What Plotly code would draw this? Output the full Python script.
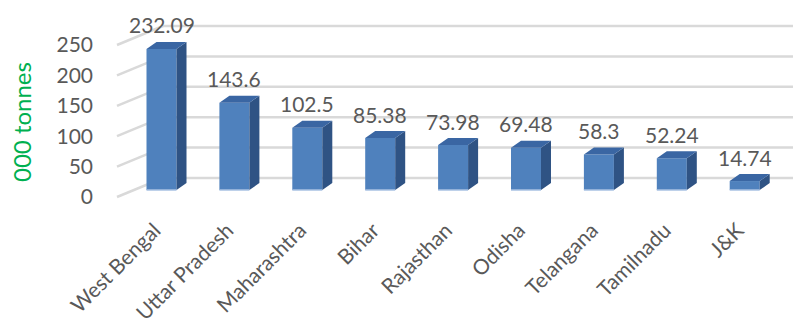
import plotly.graph_objects as go

# Fish production by state (000 tonnes)
states = ["West Bengal", "Uttar Pradesh", "Maharashtra", "Bihar", "Rajasthan",
          "Odisha", "Telangana", "Tamilnadu", "J&K"]
production = [232.09, 143.6, 102.5, 85.38, 73.98, 69.48, 58.3, 52.24, 14.74]
y_ticks = [0, 50, 100, 150, 200, 250]

# ---- pseudo-3D geometry (x in category units, y in value units) ----
PX_X = 72.9          # pixels per category step
PX_Y = 0.608         # pixels per value unit
BAR_W = 30 / PX_X    # width of a bar's front face
BAR_BASE = 7 / PX_Y  # bar front sits slightly behind the floor's front edge
BAR_DX = 10 / PX_X   # bar depth, horizontal
BAR_DY = 7 / PX_Y    # bar depth, vertical
WALL_X0 = (117 - 161.5) / PX_X   # front edge of the left wall
WALL_X1 = (163 - 161.5) / PX_X   # back corner where walls meet
WALL_DY = 19 / PX_Y              # depth rise of the walls
X_RANGE = [(100 - 161.5) / PX_X, (793 - 161.5) / PX_X]
Y_RANGE = [(197 - 205) / PX_Y, 197 / PX_Y]

FRONT = "#4F81BD"
SIDE = "#2F5384"
TOP = "#3A66A3"
GRID = "#D9D9D9"
TEXT = "#595959"
FONT = "Lato"

fig = go.Figure()

# Walls: diagonal gridlines on the side wall and horizontal ones on the back wall
shapes = []
for v in y_ticks:
    shapes.append(dict(type="line", layer="below", xref="x", yref="y",
                       x0=WALL_X0, y0=v, x1=WALL_X1, y1=v + WALL_DY,
                       line=dict(color=GRID, width=2.5)))
    shapes.append(dict(type="line", layer="below", xref="x", yref="y",
                       x0=WALL_X1, y0=v + WALL_DY, x1=X_RANGE[1], y1=v + WALL_DY,
                       line=dict(color=GRID, width=2.5)))

idx = list(range(len(states)))

# Front faces of the columns
fig.add_trace(go.Bar(
    x=idx, y=production, base=[BAR_BASE] * len(idx), width=BAR_W,
    marker=dict(color=FRONT, line=dict(width=0)),
    hoverinfo="skip", showlegend=False,
))

# Side and top faces, built from each column's value
side_x, side_y, top_x, top_y, edge_x, edge_y = [], [], [], [], [], []
for i, v in zip(idx, production):
    xr = i + BAR_W / 2
    xl = i - BAR_W / 2
    yt = BAR_BASE + v
    side_x += [xr, xr, xr + BAR_DX, xr + BAR_DX, xr, None]
    side_y += [BAR_BASE, yt, yt + BAR_DY, BAR_BASE + BAR_DY, BAR_BASE, None]
    top_x += [xl, xr, xr + BAR_DX, xl + BAR_DX, xl, None]
    top_y += [yt, yt, yt + BAR_DY, yt + BAR_DY, yt, None]
    edge_x += [xl, xr, None]
    edge_y += [BAR_BASE, BAR_BASE, None]

fig.add_trace(go.Scatter(x=side_x, y=side_y, mode="lines", fill="toself",
                         fillcolor=SIDE, line=dict(width=0, color=SIDE),
                         hoverinfo="skip", showlegend=False))
fig.add_trace(go.Scatter(x=top_x, y=top_y, mode="lines", fill="toself",
                         fillcolor=TOP, line=dict(width=0, color=TOP),
                         hoverinfo="skip", showlegend=False))
fig.add_trace(go.Scatter(x=edge_x, y=edge_y, mode="lines",
                         line=dict(width=1.5, color="#A9C2E3"),
                         hoverinfo="skip", showlegend=False))

# Value labels above each column
annotations = [
    dict(x=i, y=BAR_BASE + v, xref="x", yref="y", text=str(v), showarrow=False,
         yanchor="middle", yshift=24, font=dict(family=FONT, size=21, color=TEXT))
    for i, v in zip(idx, production)
]
annotations.append(dict(
    x=(21 - 100) / 693, y=1 - 122 / 205, xref="paper", yref="paper",
    text="000 tonnes", showarrow=False, textangle=-90,
    xanchor="center", yanchor="middle",
    font=dict(family=FONT, size=24, color="#00B050"),
))

fig.update_layout(
    width=793, height=329,
    margin=dict(l=100, r=0, t=0, b=124),
    paper_bgcolor="white", plot_bgcolor="white",
    shapes=shapes, annotations=annotations,
    xaxis=dict(range=X_RANGE, tickvals=idx, ticktext=states, tickangle=-45,
               showgrid=False, zeroline=False, showline=False,
               ticklabelstandoff=8, ticklabelshift=-7,
               tickfont=dict(family=FONT, size=21, color=TEXT)),
    yaxis=dict(range=Y_RANGE, tickvals=y_ticks, showgrid=False, zeroline=False,
               showline=False, ticklabelstandoff=6,
               tickfont=dict(family=FONT, size=21, color=TEXT)),
)

fig.write_html("out.html")
